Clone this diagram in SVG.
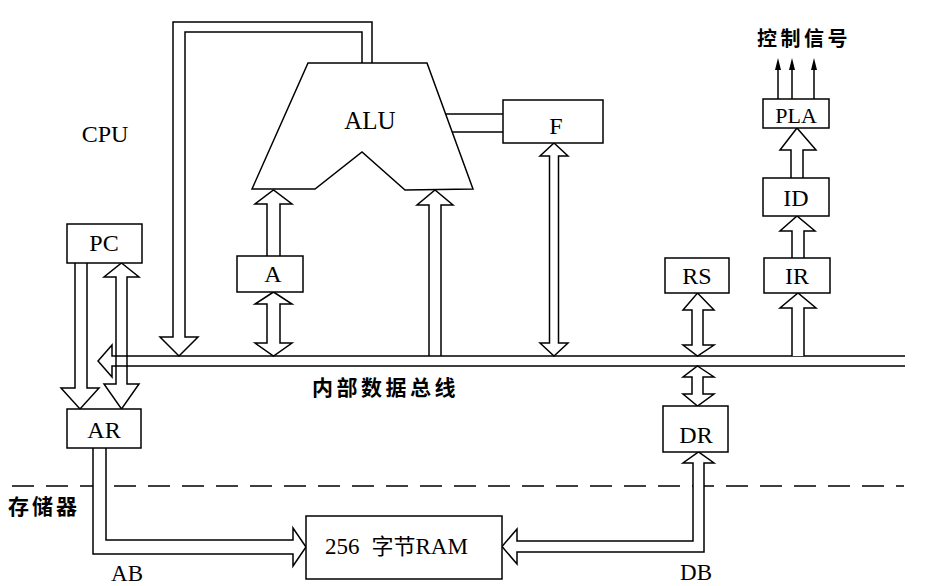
<svg xmlns="http://www.w3.org/2000/svg" width="928" height="586" viewBox="0 0 928 586">
<defs>
<style>
.box{fill:#fff;stroke:#000;stroke-width:1.5}
.arr{fill:#fff;stroke:#000;stroke-width:1.5;stroke-linejoin:miter}
.bus{fill:none;stroke:#000;stroke-width:1.5}
.ln{fill:none;stroke:#000;stroke-width:1.5}
.lt{font-family:"Liberation Serif","Times New Roman",serif;font-size:24px;fill:#000;text-anchor:middle}
.cj{font-family:"Noto Sans CJK SC","Noto Sans CJK JP",sans-serif;font-size:21px;font-weight:bold;fill:#000}
</style>
<marker id="tip" viewBox="0 0 12 6" refX="4" refY="3" markerWidth="12" markerHeight="6" markerUnits="userSpaceOnUse" orient="auto">
<path d="M0,0 L12,3 L0,6 Z" fill="#000"/>
</marker>
</defs>
<rect width="928" height="586" fill="#fff"/>

<!-- dashed CPU / memory boundary -->
<line x1="12" y1="486" x2="904" y2="486" stroke="#000" stroke-width="1.5" stroke-dasharray="22 12"/>

<g id="connectors">
  <!-- ALU output loop to bus -->
  <path class="arr" d="M362,63 V32 H185 V337 H198 L179,356 L160,337 H173 V22 H372 V63"/>
  <!-- A to ALU -->
  <path class="arr" d="M267,256 V204 H255 L273.5,190 L292,204 H280 V256"/>
  <!-- A <-> bus -->
  <path class="arr" d="M273.5,292 L292,304 H280 V343 H292 L273.5,356 L255,343 H267 V304 H255 Z"/>
  <!-- bus to ALU right input -->
  <path class="arr" d="M429,356 V205 H417 L435,190 L453,205 H441 V356"/>
  <!-- F <-> bus -->
  <path class="arr" d="M554,143 L568,156 H558.5 V343 H568 L554,356 L540,343 H549.5 V156 H540 Z"/>
  <!-- ALU - F -->
  <line class="ln" x1="446" y1="114" x2="503" y2="114"/>
  <line class="ln" x1="452" y1="132" x2="503" y2="132"/>
  <!-- PC -> AR -->
  <path class="arr" d="M75,263 V388 H61 L80,409 L99,388 H87 V263"/>
  <!-- PC <-> AR -->
  <path class="arr" d="M121.5,263 L139,277 H127 V384 H139 L121.5,409 L104,384 H116 V277 H104 Z"/>
  <!-- internal data bus -->
  <path class="bus" d="M905,356 H112 V345 L98,361 L112,377 V366 H905"/>
  <!-- RS <-> bus -->
  <path class="arr" d="M697.5,293 L714,310 H703 V345 H714 L697.5,356 L683,345 H692 V310 H683 Z"/>
  <!-- bus <-> DR -->
  <path class="arr" d="M697.5,366 L714,377 H703 V394 H714 L697.5,406 L683,394 H692 V377 H683 Z"/>
  <!-- bus -> IR -->
  <path class="arr" d="M792,356 V308 H780 L798,293 L816,308 H804 V356"/>
  <!-- IR -> ID -->
  <path class="arr" d="M792,258 V231 H780 L797,216 L815,231 H804 V258"/>
  <!-- ID -> PLA -->
  <path class="arr" d="M791,178 V150 H780 L797,128 L816,150 H803 V178"/>
  <!-- control signals -->
  <line class="ln" x1="778" y1="99" x2="778" y2="66" marker-end="url(#tip)"/>
  <line class="ln" x1="792" y1="99" x2="792" y2="66" marker-end="url(#tip)"/>
  <line class="ln" x1="814" y1="99" x2="814" y2="66" marker-end="url(#tip)"/>
  <!-- AB: AR -> RAM -->
  <path class="arr" d="M93,448 V554 H293 V566 L306,547 L293,528 V540 H106 V448"/>
  <!-- DB: RAM <-> DR -->
  <path class="arr" d="M693,463 H683 L698.5,452 L714,463 H704 V552 H517 V564 L502,546.5 L517,529 V541 H693 Z"/>
</g>

<g id="ALU">
  <polygon class="box" points="308,63 427,63 473,189 405,190 362,152 315,189 252,189"/>
  <text class="lt" x="370" y="129" style="font-size:25px">ALU</text>
</g>
<g id="F">
  <rect class="box" x="503" y="100" width="100" height="43"/>
  <text class="lt" x="556" y="134">F</text>
</g>
<g id="A">
  <rect class="box" x="237" y="256" width="66" height="36"/>
  <text class="lt" x="273" y="282">A</text>
</g>
<g id="PC">
  <rect class="box" x="67" y="224" width="75" height="39"/>
  <text class="lt" x="104" y="251">PC</text>
</g>
<g id="AR">
  <rect class="box" x="67" y="409" width="74" height="39"/>
  <text class="lt" x="104" y="438">AR</text>
</g>
<g id="RS">
  <rect class="box" x="665" y="258" width="64" height="35"/>
  <text class="lt" x="697" y="284">RS</text>
</g>
<g id="DR">
  <rect class="box" x="663" y="406" width="65" height="46"/>
  <text class="lt" x="696" y="443">DR</text>
</g>
<g id="IR">
  <rect class="box" x="764" y="258" width="66" height="35"/>
  <text class="lt" x="797" y="284">IR</text>
</g>
<g id="ID">
  <rect class="box" x="763" y="178" width="66" height="38"/>
  <text class="lt" x="796" y="206">ID</text>
</g>
<g id="PLA">
  <rect class="box" x="763" y="99" width="66" height="29"/>
  <text class="lt" x="796" y="123" style="font-size:22px">PLA</text>
</g>
<g id="RAM">
  <rect class="box" x="306" y="516" width="196" height="63"/>
  <text x="325" y="554" style="font-family:'Liberation Serif','Noto Sans CJK SC',serif;font-size:23px">256<tspan dx="12" style="font-family:'Noto Sans CJK SC',sans-serif;font-size:22px">字节</tspan>RAM</text>
</g>

<g id="labels">
  <text class="lt" x="105" y="142">CPU</text>
  <text class="cj" x="312" y="395" style="letter-spacing:3.5px">内部数据总线</text>
  <text class="cj" x="757" y="46" style="font-size:20px;letter-spacing:3.5px">控制信号</text>
  <text class="cj" x="8" y="514" style="letter-spacing:3px">存储器</text>
  <text class="lt" x="127" y="581" style="font-size:23px">AB</text>
  <text class="lt" x="696" y="580" style="font-size:23px">DB</text>
</g>
</svg>
